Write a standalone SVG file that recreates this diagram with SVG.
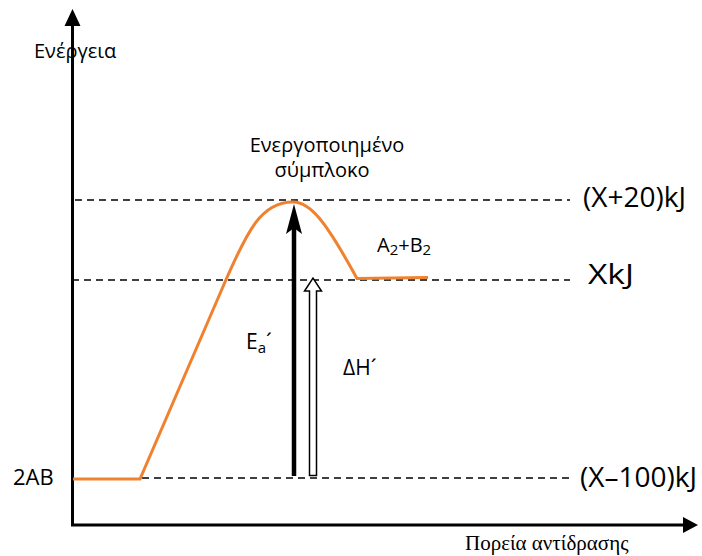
<svg xmlns="http://www.w3.org/2000/svg" width="702" height="556" viewBox="0 0 702 556">
<defs>
<style>
.t{font-family:"Open Sans","DejaVu Sans",sans-serif;fill:#000}
.dash{stroke:#000;stroke-width:1.5;stroke-dasharray:7,5;fill:none}
.ax{stroke:#000;stroke-width:3;fill:none}
</style>
</defs>
<rect width="702" height="556" fill="#fff"/>
<g id="connectors">
<line class="ax" x1="72.5" y1="525" x2="72.5" y2="24"/>
<polygon points="72.5,9 64.5,26 80.5,26" fill="#000"/>
<line class="ax" x1="71" y1="525" x2="685" y2="525"/>
<polygon points="698,525 683,517 683,533" fill="#000"/>
<line class="dash" x1="75" y1="200" x2="570" y2="200"/>
<line class="dash" x1="72" y1="280" x2="570" y2="280"/>
<line class="dash" x1="142" y1="478" x2="570" y2="478"/>
<path d="M73,479 L140,479 L222,289 C248,228 262,202 293,202 C310,202 325,220 357,278.5 L428,277.5" fill="none" stroke="#f0812f" stroke-width="3"/>
<line x1="294" y1="476" x2="294" y2="226" stroke="#000" stroke-width="4.5"/>
<polygon points="294,204 286,234 294,228 302,234" fill="#000"/>
<path d="M309.5,475.5 L316.5,475.5 L316.5,291 L321.5,291 L313,278 L304.5,291 L309.5,291 Z" fill="#fff" stroke="#000" stroke-width="1.5"/>
</g>
<g id="axis-labels">
<text class="t" x="34" y="58" font-size="20">Ενέργεια</text>
<text x="465" y="550" font-family="Liberation Serif,serif" font-size="21">Πορεία αντίδρασης</text>
</g>
<g id="complex">
<text class="t" x="327" y="152" font-size="20" text-anchor="middle">Ενεργοποιημένο</text>
<text class="t" x="322" y="177" font-size="20" text-anchor="middle">σύμπλοκο</text>
</g>
<g id="products">
<text class="t" x="377" y="252" font-size="20">A<tspan font-size="15" dy="3">2</tspan><tspan dy="-3">+B</tspan><tspan font-size="15" dy="3">2</tspan></text>
</g>
<g id="reactants">
<text class="t" x="13" y="485" font-size="22">2AB</text>
</g>
<g id="ea">
<text class="t" x="246" y="349" font-size="21">E<tspan font-size="15" dy="4">a</tspan><tspan dy="-4">´</tspan></text>
</g>
<g id="dh">
<text class="t" x="343" y="375" font-size="21">ΔΗ´</text>
</g>
<g id="levels">
<text class="t" x="583" y="207" font-size="28">(X+20)kJ</text>
<text class="t" x="588" y="284" font-size="28" textLength="46" lengthAdjust="spacingAndGlyphs">XkJ</text>
<text class="t" x="580" y="487" font-size="28">(X–100)kJ</text>
</g>
</svg>
